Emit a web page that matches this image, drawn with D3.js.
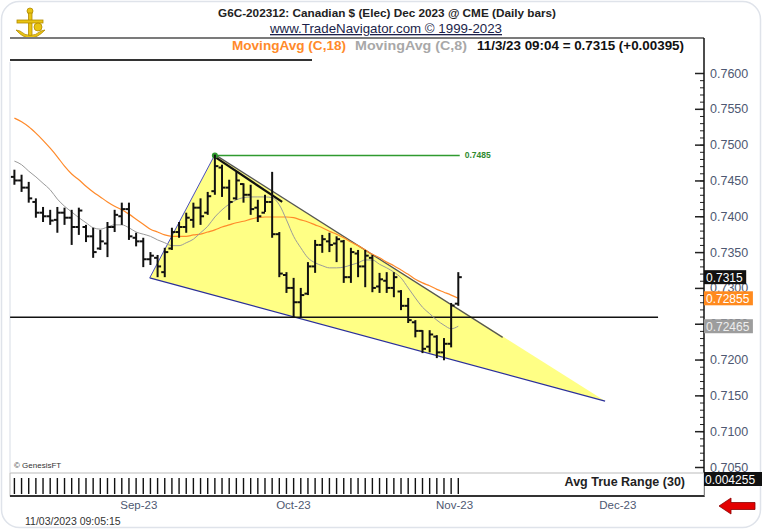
<!DOCTYPE html>
<html>
<head>
<meta charset="utf-8">
<script src="https://cdn.jsdelivr.net/npm/d3@7"></script>
<style>
  body { margin: 0; background: #fff; }
  svg { display: block; font-family: "Liberation Sans", Arial, sans-serif; }
</style>
</head>
<body>
<svg id="chart" width="762" height="529"></svg>
<script>
/* G6C daily bars. One entry per trading day,
   from mid August 2023 to 3 Nov 2023. */
const opens  = [0.7455,0.7450,0.7440,0.7420,0.7405,0.7400,0.7395,0.7405,0.7398,0.7385,
                0.7385,0.7372,0.7355,0.7362,0.7385,0.7400,0.7410,0.7370,0.7365,0.7340,
                0.7342,0.7322,0.7355,0.7378,0.7385,0.7395,0.7412,0.7405,0.7435,0.7468,
                0.7440,0.7425,0.7445,0.7430,0.7412,0.7405,0.7420,0.7375,0.7318,0.7300,
                0.7280,0.7292,0.7330,0.7360,0.7365,0.7362,0.7365,0.7315,0.7348,0.7330,
                0.7342,0.7302,0.7310,0.7300,0.7295,0.7275,0.7252,0.7240,0.7218,0.7232,
                0.7210,0.7222,0.7278];
const highs  = [0.7465,0.7458,0.7448,0.7425,0.7413,0.7409,0.7413,0.7412,0.7409,0.7412,
                0.7388,0.7384,0.7381,0.7392,0.7409,0.7419,0.7419,0.7377,0.7370,0.7350,
                0.7346,0.7356,0.7384,0.7392,0.7405,0.7419,0.7425,0.7434,0.7486,0.7472,
                0.7451,0.7462,0.7446,0.7444,0.7423,0.7430,0.7462,0.7378,0.7322,0.7314,
                0.7300,0.7336,0.7367,0.7374,0.7377,0.7372,0.7367,0.7356,0.7353,0.7353,
                0.7346,0.7321,0.7322,0.7322,0.7297,0.7286,0.7255,0.7241,0.7241,0.7234,
                0.7230,0.7279,0.7322];
const lows   = [0.7444,0.7434,0.7419,0.7398,0.7392,0.7388,0.7377,0.7388,0.7360,0.7374,
                0.7364,0.7342,0.7353,0.7343,0.7378,0.7388,0.7367,0.7358,0.7329,0.7332,
                0.7315,0.7315,0.7353,0.7370,0.7377,0.7384,0.7388,0.7402,0.7430,0.7427,
                0.7395,0.7423,0.7419,0.7402,0.7392,0.7406,0.7370,0.7315,0.7293,0.7259,
                0.7259,0.7290,0.7321,0.7349,0.7350,0.7336,0.7307,0.7307,0.7315,0.7301,
                0.7294,0.7293,0.7293,0.7287,0.7269,0.7251,0.7231,0.7209,0.7210,0.7202,
                0.7199,0.7217,0.7275];
const closes = [0.7450,0.7440,0.7425,0.7405,0.7400,0.7394,0.7405,0.7398,0.7385,0.7408,
                0.7372,0.7350,0.7365,0.7385,0.7402,0.7410,0.7372,0.7365,0.7340,0.7345,
                0.7330,0.7350,0.7378,0.7385,0.7398,0.7412,0.7400,0.7428,0.7470,0.7440,
                0.7420,0.7450,0.7430,0.7410,0.7400,0.7420,0.7375,0.7320,0.7300,0.7280,
                0.7290,0.7330,0.7360,0.7368,0.7360,0.7368,0.7315,0.7350,0.7330,0.7345,
                0.7300,0.7312,0.7300,0.7315,0.7275,0.7255,0.7240,0.7215,0.7235,0.7210,
                0.7222,0.72755,0.7315];

// moving averages as drawn on the chart
const ma18 = [0.7537,0.7532,0.7525,0.7516,0.7506,0.7495,0.7483,0.7470,0.7459,0.7451,
              0.7442,0.7434,0.7427,0.7420,0.7414,0.7409,0.7403,0.7396,0.7389,0.7382,
              0.7378,0.7374,0.7372,0.7372,0.7372,0.7374,0.7375,0.7378,0.7381,0.7385,
              0.7388,0.7391,0.7393,0.7396,0.7398,0.7399,0.7399,0.7399,0.7399,0.7398,
              0.7395,0.7392,0.7388,0.7384,0.7379,0.7375,0.7370,0.7364,0.7359,0.7353,
              0.7347,0.7342,0.7336,0.7331,0.7325,0.7319,0.7312,0.7307,0.7303,0.7298,
              0.7294,0.7290,0.72855];
const ma8  = [0.7477,0.7472,0.7463,0.7455,0.7446,0.7437,0.7424,0.7414,0.7406,0.7398,
              0.7391,0.7384,0.7382,0.7385,0.7388,0.7388,0.7384,0.7378,0.7375,0.7372,
              0.7367,0.7363,0.7359,0.7359,0.7363,0.7368,0.7377,0.7386,0.7399,0.7409,
              0.7417,0.7423,0.7426,0.7427,0.7427,0.7427,0.7426,0.7416,0.7395,0.7372,
              0.7356,0.7342,0.7335,0.7331,0.7328,0.7328,0.7329,0.7332,0.7335,0.7339,
              0.7339,0.7333,0.7328,0.7322,0.7314,0.7300,0.7286,0.7273,0.7264,0.7255,
              0.7248,0.7243,0.72465];

// drawings, in [bar index, price]
const wedge      = [[18.9, 0.7314], [28, 0.7486], [82.5, 0.7142]];
const upperLine  = [[28, 0.7486], [68.2, 0.7231]];
const shortLine  = [[28, 0.7483], [37.4, 0.7420]];
const supportLine = [[-0.6, 0.7259], [89.9, 0.7259]];
const highLevel  = [[28, 0.7485], [62.2, 0.7485]];

const priceTicks = [0.7050,0.7100,0.7150,0.7200,0.7250,0.7300,0.7350,0.7400,0.7450,0.7500,0.7550,0.7600];
const monthLabels = ['Sep-23', 'Oct-23', 'Nov-23', 'Dec-23'];
const monthAt     = [17.3, 38.9, 61.4, 84.2];

const lastClose = 0.7315, lastMa18 = 0.72855, lastMa8 = 0.72465, atrValue = '0.004255';

const bars = closes.map((c, i) => ({i, o: opens[i], h: highs[i], l: lows[i], c}));

const svg = d3.select('#chart');
const x = d3.scaleLinear().domain([0, 62]).range([14.4, 458.3]);
const y = d3.scaleLinear().domain([0.705, 0.76]).range([467, 73]);
const line = d3.line().x(d => x(d[0])).y(d => y(d[1]));
const AXIS_X = 704;

// outer frame
svg.append('rect').attr('x', 1.5).attr('y', 1.5).attr('width', 759).attr('height', 526)
  .attr('rx', 18).attr('fill', '#fff').attr('stroke', '#dfe3ea').attr('stroke-width', 1.5);

// logo
const logo = svg.append('g').attr('fill', '#e9c412').attr('stroke', '#b28a00').attr('stroke-width', 0.8);
logo.append('circle').attr('cx', 30).attr('cy', 11).attr('r', 3);
logo.append('rect').attr('x', 28.5).attr('y', 13).attr('width', 3.5).attr('height', 24);
logo.append('rect').attr('x', 17).attr('y', 20).attr('width', 26).attr('height', 3);
logo.append('circle').attr('cx', 38).attr('cy', 27).attr('r', 4);
logo.append('path').attr('d', 'M16,30 Q30,46 45,30 L41,31 Q30,40 20,31 Z');

// headers
svg.append('text').attr('x', 387).attr('y', 17).attr('text-anchor', 'middle')
  .attr('font-size', 11).attr('font-weight', 'bold').attr('fill', '#222')
  .attr('textLength', 338).attr('lengthAdjust', 'spacingAndGlyphs')
  .text('G6C-202312:  Canadian $ (Elec) Dec 2023 @ CME  (Daily bars)');
svg.append('text').attr('x', 386).attr('y', 33).attr('text-anchor', 'middle')
  .attr('font-size', 13).attr('fill', '#1b1f4a').attr('text-decoration', 'underline')
  .attr('textLength', 232).attr('lengthAdjust', 'spacingAndGlyphs')
  .text('www.TradeNavigator.com © 1999-2023');
svg.append('line').attr('x1', 10).attr('x2', AXIS_X).attr('y1', 38).attr('y2', 38)
  .attr('stroke', '#7b7b7b').attr('stroke-width', 2);
svg.append('line').attr('x1', 10).attr('x2', 312).attr('y1', 60).attr('y2', 60)
  .attr('stroke', '#333').attr('stroke-width', 2);

const legend = svg.append('text').attr('y', 50).attr('font-size', 13).attr('font-weight', 'bold');
legend.append('tspan').attr('x', 232).attr('fill', '#ff8a2a')
  .attr('textLength', 114).attr('lengthAdjust', 'spacingAndGlyphs').text('MovingAvg (C,18)');
legend.append('tspan').attr('x', 355).attr('fill', '#a8a8a8')
  .attr('textLength', 112).attr('lengthAdjust', 'spacingAndGlyphs').text('MovingAvg (C,8)');
legend.append('tspan').attr('x', 477).attr('fill', '#111')
  .attr('textLength', 207).attr('lengthAdjust', 'spacingAndGlyphs').text('11/3/23 09:04 = 0.7315 (+0.00395)');

// left plot edge
svg.append('line').attr('x1', 10).attr('x2', 10).attr('y1', 62).attr('y2', 472)
  .attr('stroke', '#d8dde6').attr('stroke-width', 1);

// wedge
svg.append('path').attr('d', line(wedge) + 'Z').attr('fill', '#ffff85').attr('stroke', 'none');
svg.append('path').attr('d', line([wedge[0], wedge[2]])).attr('stroke', '#2b2f9a').attr('stroke-width', 1.2).attr('fill', 'none');
svg.append('path').attr('d', line([wedge[0], wedge[1]])).attr('stroke', '#4a4fc0').attr('stroke-width', 1).attr('fill', 'none');
svg.append('path').attr('d', line(upperLine)).attr('stroke', '#555').attr('stroke-width', 1.3).attr('fill', 'none');
svg.append('path').attr('d', line(shortLine)).attr('stroke', '#111').attr('stroke-width', 2.2).attr('fill', 'none');

// support line
svg.append('path').attr('d', line(supportLine)).attr('stroke', '#111').attr('stroke-width', 1.5).attr('fill', 'none');

// high level
svg.append('path').attr('d', line(highLevel)).attr('stroke', '#2f9a2f').attr('stroke-width', 1.5).attr('fill', 'none');
svg.append('circle').attr('cx', x(highLevel[0][0])).attr('cy', y(highLevel[0][1])).attr('r', 3).attr('fill', '#2f9a2f');
svg.append('text').attr('x', x(highLevel[1][0]) + 5).attr('y', y(highLevel[1][1]) + 3)
  .attr('font-size', 8.5).attr('font-weight', 'bold').attr('fill', '#2f8a2f').text('0.7485');

// moving averages
const maLine = d3.line().x((d, i) => x(i)).y(d => y(d)).curve(d3.curveMonotoneX);
svg.append('path').attr('d', maLine(ma18)).attr('stroke', '#ff8a2a').attr('stroke-width', 1.2).attr('fill', 'none');
svg.append('path').attr('d', maLine(ma8)).attr('stroke', '#9a9a9a').attr('stroke-width', 1).attr('fill', 'none');

// OHLC bars
const g = svg.append('g').attr('stroke', '#111').attr('stroke-width', 2);
g.selectAll('line.hl').data(bars).join('line').attr('class', 'hl')
  .attr('x1', d => x(d.i)).attr('x2', d => x(d.i)).attr('y1', d => y(d.h)).attr('y2', d => y(d.l));
g.selectAll('line.op').data(bars).join('line').attr('class', 'op')
  .attr('x1', d => x(d.i) - 3.5).attr('x2', d => x(d.i)).attr('y1', d => y(d.o)).attr('y2', d => y(d.o));
g.selectAll('line.cl').data(bars).join('line').attr('class', 'cl')
  .attr('x1', d => x(d.i)).attr('x2', d => x(d.i) + 3.5).attr('y1', d => y(d.c)).attr('y2', d => y(d.c));

// price axis
const minorTicks = d3.range(0.705, 0.7605, 0.001);
svg.append('g').attr('transform', `translate(${AXIS_X},0)`)
  .call(d3.axisRight(y).tickValues(minorTicks).tickSize(-4).tickFormat(''))
  .call(a => a.select('.domain').remove())
  .call(a => a.selectAll('line').attr('stroke', '#222'));
svg.append('g').attr('transform', `translate(${AXIS_X},0)`)
  .call(d3.axisRight(y).tickValues(priceTicks).tickSize(-9).tickPadding(6).tickFormat(d3.format('.4f')))
  .call(a => a.select('.domain').remove())
  .call(a => a.selectAll('line').attr('stroke', '#222').attr('stroke-width', 1.5))
  .call(a => a.selectAll('text').attr('font-size', 12.5).attr('fill', '#4e5872')
    .attr('font-family', '"Liberation Sans", Arial, sans-serif'));
svg.append('line').attr('x1', AXIS_X).attr('x2', AXIS_X).attr('y1', 38).attr('y2', 497)
  .attr('stroke', '#111').attr('stroke-width', 1.5);

// value flags on the axis
function flag(v, bg, fg, txt) {
  const yy = y(v);
  svg.append('rect').attr('x', AXIS_X).attr('y', yy - 7).attr('width', txt.length * 6.7 + 2).attr('height', 14).attr('fill', bg);
  svg.append('text').attr('x', AXIS_X + 2).attr('y', yy + 4.5).attr('font-size', 12).attr('fill', fg).text(txt);
}
flag(lastClose, '#111', '#fff', '0.7315');
flag(lastMa18, '#ff8a1e', '#fff', '0.72855');
flag(lastMa8, '#9d9d9d', '#eee', '0.72465');

// copyright
svg.append('text').attr('x', 14).attr('y', 468).attr('font-size', 8).attr('fill', '#333').text('© GenesisFT');

// ATR strip
svg.append('rect').attr('x', 10).attr('y', 473).attr('width', AXIS_X - 10).attr('height', 23)
  .attr('fill', '#fff').attr('stroke', '#bbb').attr('stroke-width', 1);
svg.append('line').attr('x1', 10).attr('x2', AXIS_X).attr('y1', 496).attr('y2', 496)
  .attr('stroke', '#333').attr('stroke-width', 2);
svg.append('g').selectAll('line').data(bars).join('line')
  .attr('x1', d => x(d.i)).attr('x2', d => x(d.i)).attr('y1', 478).attr('y2', 494)
  .attr('stroke', '#111').attr('stroke-width', 1.4);
svg.append('text').attr('x', 685).attr('y', 486).attr('text-anchor', 'end')
  .attr('font-size', 12.5).attr('font-weight', 'bold').attr('fill', '#222').text('Avg True Range (30)');
svg.append('rect').attr('x', AXIS_X).attr('y', 472).attr('width', 58).attr('height', 14).attr('fill', '#111');
svg.append('text').attr('x', AXIS_X + 1).attr('y', 483.5).attr('font-size', 12).attr('fill', '#fff').text(atrValue);

// month axis
const xm = svg.append('g').attr('transform', 'translate(0,496)')
  .call(d3.axisBottom(x).tickValues(monthAt).tickSize(0).tickPadding(5).tickFormat((d, i) => monthLabels[i]));
xm.select('.domain').remove();
xm.selectAll('text').attr('font-size', 11.5).attr('fill', '#4e5872')
  .attr('font-family', '"Liberation Sans", Arial, sans-serif');

svg.append('text').attr('x', 25).attr('y', 525).attr('font-size', 10.5).attr('fill', '#333').text('11/03/2023 09:05:15');

// red arrow
svg.append('path').attr('d', 'M719,506 L731,498 L731,502.5 L755,502.5 L755,509.5 L731,509.5 L731,514 Z')
  .attr('fill', '#e30000').attr('stroke', '#8a0000').attr('stroke-width', 0.8);
</script>
</body>
</html>
